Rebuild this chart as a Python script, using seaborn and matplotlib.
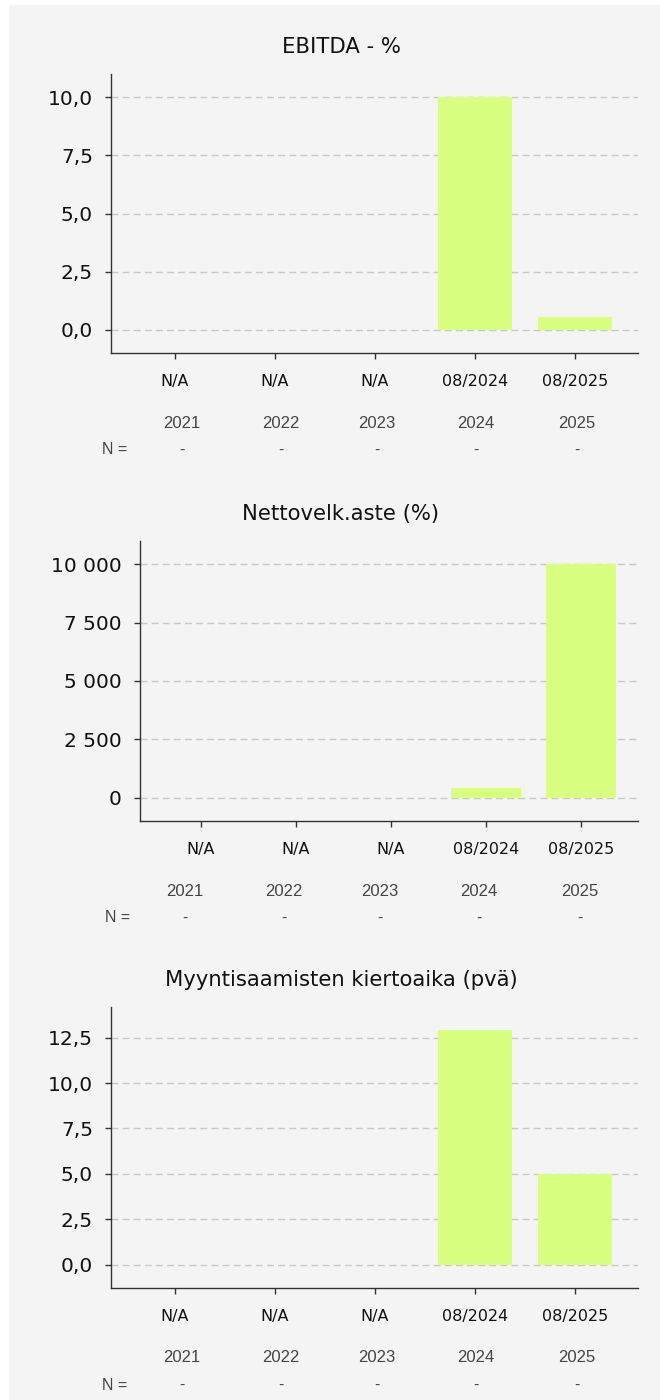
"""
Three stacked key-figure bar charts (Finnish number format) saved to out.png.
"""

import matplotlib

matplotlib.use("Agg")

import matplotlib.patches as mpatches
import matplotlib.pyplot as plt
import numpy as np
import pandas as pd
import seaborn as sns
from matplotlib.ticker import FuncFormatter, MultipleLocator

# --- data -------------------------------------------------------------------
years = ["2021", "2022", "2023", "2024", "2025"]
period_labels = ["N/A", "N/A", "N/A", "08/2024", "08/2025"]
n_counts = ["-", "-", "-", "-", "-"]

titles = ["EBITDA - %", "Nettovelk.aste (%)", "Myyntisaamisten kiertoaika (pvä)"]
ebitda_pct = [np.nan, np.nan, np.nan, 10.0, 0.55]
net_gearing = [np.nan, np.nan, np.nan, 410.0, 10000.0]
receivable_days = [np.nan, np.nan, np.nan, 12.9, 5.0]
tick_steps = [2.5, 2500, 2.5]
decimals = [1, 0, 1]

# --- style ------------------------------------------------------------------
W, H = 660, 1400
BAR = "#d8ff80"
PANEL = "#f4f4f4"
GRID = "#c8c8c8"
SPINE = "#333333"
TABLE = "#444444"

# pixel layout of each chart block: axes left/top/bottom, table columns
layouts = [
    dict(left=111, top=74, bottom=353, xmax=4.63,
         cols=[182, 281, 377, 476, 577], nx=127),
    dict(left=140, top=541, bottom=821, xmax=4.60,
         cols=[185, 284, 380, 479, 580], nx=130),
    dict(left=111, top=1007, bottom=1288, xmax=4.63,
         cols=[182, 281, 377, 476, 577], nx=127),
]
RIGHT = 638
TITLE_X = 341


def fi_formatter(dec):
    def fmt(v, _):
        return f"{v:,.{dec}f}".replace(",", " ").replace(".", ",")
    return FuncFormatter(fmt)


def fx(px):
    return px / W


def fy(px):
    return 1 - px / H


def draw_chart(fig, lay, title, values, step, dec):
    ax = fig.add_axes([
        fx(lay["left"]), fy(lay["bottom"]),
        (RIGHT - lay["left"]) / W, (lay["bottom"] - lay["top"]) / H,
    ])
    ax.set_facecolor("none")

    df = pd.DataFrame({"year": years, "value": values}).dropna()
    sns.barplot(data=df, x="year", y="value", order=years, color=BAR,
                saturation=1, width=0.74, errorbar=None, linewidth=0, ax=ax)

    vmax = np.nanmax(values)
    ax.set_ylim(-0.1 * vmax, 1.1 * vmax)
    ax.set_xlim(-0.64, lay["xmax"])
    ax.yaxis.set_major_locator(MultipleLocator(step))
    ax.yaxis.set_major_formatter(fi_formatter(dec))
    ax.set_xticks(range(len(years)))
    ax.set_xticklabels(period_labels)
    ax.set_xlabel("")
    ax.set_ylabel("")

    ax.yaxis.grid(True, color=GRID, linestyle=(0, (5, 3)), linewidth=1)
    ax.xaxis.grid(False)
    ax.set_axisbelow(True)

    for side in ("top", "right"):
        ax.spines[side].set_visible(False)
    for side in ("left", "bottom"):
        ax.spines[side].set_color(SPINE)
        ax.spines[side].set_linewidth(1)

    ax.tick_params(axis="y", labelsize=14.5, length=4.5, width=1,
                   color=SPINE, pad=8.5, labelcolor="#111111")
    ax.tick_params(axis="x", labelsize=11.5, length=4.5, width=1,
                   color=SPINE, pad=10.5, labelcolor="#111111")

    fig.text(fx(TITLE_X), fy(lay["top"] - 27), title, ha="center",
             va="center", fontsize=15.25, color="#111111")

    # table under the chart: year row and N row
    for x, yr, n in zip(lay["cols"], years, n_counts):
        fig.text(fx(x), fy(lay["bottom"] + 70), yr, ha="center", va="center",
                 fontsize=12, color=TABLE, family="Liberation Sans")
        fig.text(fx(x), fy(lay["bottom"] + 97), n, ha="center", va="center",
                 fontsize=11.5, color=TABLE, family="Liberation Sans")
    fig.text(fx(lay["nx"]), fy(lay["bottom"] + 97), "N =", ha="right",
             va="center", fontsize=11.5, color=TABLE, family="Liberation Sans")
    return ax


def main():
    sns.set_theme(style="ticks")
    plt.rcParams["font.family"] = ["DejaVu Sans"]

    fig = plt.figure(figsize=(W / 100, H / 100), dpi=100, facecolor="white")
    fig.patches.append(mpatches.Rectangle(
        (fx(9), 0), 1 - fx(9), fy(5), transform=fig.transFigure,
        facecolor=PANEL, edgecolor="none", zorder=-10,
    ))

    series = [ebitda_pct, net_gearing, receivable_days]
    for lay, title, vals, step, dec in zip(layouts, titles, series,
                                           tick_steps, decimals):
        draw_chart(fig, lay, title, vals, step, dec)

    fig.savefig("out.png", dpi=100, facecolor="white")
    plt.close(fig)


if __name__ == "__main__":
    main()
